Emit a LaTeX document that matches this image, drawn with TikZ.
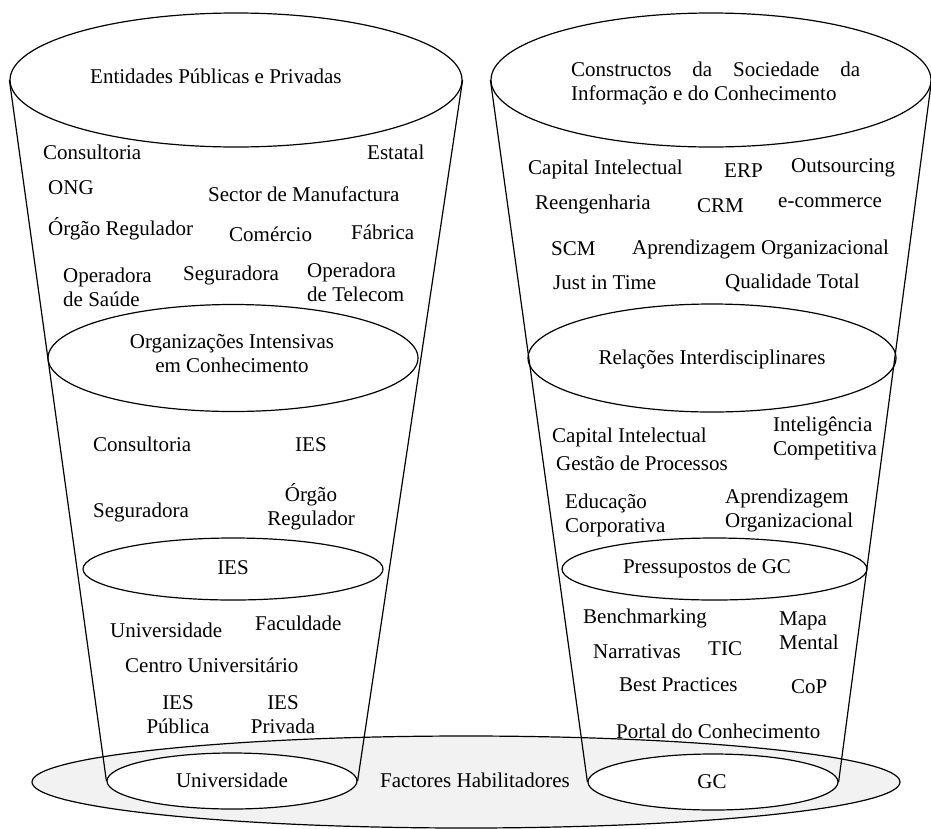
\documentclass[tikz,border=0pt]{standalone}
\usepackage{fontspec}
\setmainfont{Liberation Serif}
\usetikzlibrary{shapes.geometric}

\begin{document}
\begin{tikzpicture}[x=1pt,y=-1pt,
  every node/.style={font=\fontsize{21pt}{24pt}\selectfont, inner sep=0pt},
  oval/.style={draw, ellipse, line width=1.2pt, inner sep=0pt},
  whiteoval/.style={oval, fill=white},
  side/.style={line width=1.2pt},
  lbl/.style={anchor=base west},
  clbl/.style={anchor=base},
  % two-line labels are placed by the baseline of their last line
  twol/.style={anchor=base west, align=left},
  twoc/.style={anchor=base, align=center}]
\useasboundingbox (0,0) rectangle (931,828);

% shared base: enabling factors
\node[oval, fill=black!5, minimum width=868pt, minimum height=92pt] (fh) at (466,782) {};

% left cup: organisations
\node[oval, minimum width=452pt, minimum height=134pt] (epp) at (236,80) {};
\node[oval, minimum width=370pt, minimum height=107pt] (oic) at (233,358) {};
\node[oval, minimum width=300pt, minimum height=62pt] (ies) at (233,569) {};
\node[whiteoval, minimum width=250pt, minimum height=56pt] (univ) at (232,781) {};
\draw[side] (epp.west) -- (univ.west);
\draw[side] (epp.east) -- (univ.east);

% right cup: knowledge management
\node[oval, minimum width=440pt, minimum height=134pt] (csi) at (711,80) {};
\node[oval, minimum width=368pt, minimum height=108pt] (rid) at (712,358) {};
\node[oval, minimum width=305pt, minimum height=62pt] (pgc) at (714.5,569) {};
\node[whiteoval, minimum width=250pt, minimum height=56pt] (gc) at (713,782) {};
\draw[side] (csi.west) -- (gc.west);
\draw[side] (csi.east) -- (gc.east);

% left cup texts
\node[lbl] (t1) at (90,83) {Entidades Públicas e Privadas};
\node[lbl] (t2) at (43,159) {Consultoria};
\node[lbl] (t3) at (367,159) {Estatal};
\node[lbl] (t4) at (48,194) {ONG};
\node[lbl] (t5) at (208,201) {Sector de Manufactura};
\node[lbl] (t6) at (48,235) {Órgão Regulador};
\node[lbl] (t7) at (229,241) {Comércio};
\node[lbl] (t8) at (351,239) {Fábrica};
\node[twol] (t9) at (63,306) {Operadora\\de Saúde};
\node[lbl] (t10) at (183,280) {Seguradora};
\node[twol] (t11) at (307,301) {Operadora\\de Telecom};
\node[twoc] (t12) at (232,372) {Organizações Intensivas\\em Conhecimento};
\node[lbl] (t13) at (93,451) {Consultoria};
\node[lbl] (t14) at (295,451) {IES};
\node[lbl] (t15) at (93,517) {Seguradora};
\node[twoc] (t16) at (311,525) {Órgão\\Regulador};
\node[clbl] (t17) at (233,574) {IES};
\node[lbl] (t18) at (110,637) {Universidade};
\node[lbl] (t19) at (255,630) {Faculdade};
\node[lbl] (t20) at (125,672) {Centro Universitário};
\node[twoc] (t21) at (178,733) {IES\\Pública};
\node[twoc] (t22) at (283,733) {IES\\Privada};
\node[clbl] (t23) at (232,787) {Universidade};
\node[lbl] (t24) at (380,787) {Factores Habilitadores};

% right cup texts
\node[twol] (r1) at (571,100) {\makebox[289pt][s]{Constructos da Sociedade da}\\Informação e do Conhecimento};
\node[lbl] (r2) at (528,174) {Capital Intelectual};
\node[lbl] (r3) at (724,177) {ERP};
\node[lbl] (r4) at (791,172) {Outsourcing};
\node[lbl] (r5) at (535,209) {Reengenharia};
\node[lbl] (r6) at (697,212) {CRM};
\node[lbl] (r7) at (778,207) {e-commerce};
\node[lbl] (r8) at (551,255) {SCM};
\node[lbl] (r9) at (632,254) {Aprendizagem Organizacional};
\node[lbl] (r10) at (553,289) {Just in Time};
\node[lbl] (r11) at (725,288) {Qualidade Total};
\node[clbl] (r12) at (712,364) {Relações Interdisciplinares};
\node[lbl] (r13) at (552,442) {Capital Intelectual};
\node[twol] (r14) at (773,455) {Inteligência\\Competitiva};
\node[lbl] (r15) at (556,470) {Gestão de Processos};
\node[twol] (r16) at (565,532) {Educação\\Corporativa};
\node[twol] (r17) at (725,527) {Aprendizagem\\Organizacional};
\node[clbl] (r18) at (707,573) {Pressupostos de GC};
\node[lbl] (r19) at (583,623) {Benchmarking};
\node[twol] (r20) at (779,649) {Mapa\\Mental};
\node[lbl] (r21) at (593,658) {Narrativas};
\node[lbl] (r22) at (708,655) {TIC};
\node[lbl] (r23) at (619,691) {Best Practices};
\node[lbl] (r24) at (791,693) {CoP};
\node[lbl] (r25) at (616,738) {Portal do Conhecimento};
\node[clbl] (r26) at (712,788) {GC};
\end{tikzpicture}
\end{document}
